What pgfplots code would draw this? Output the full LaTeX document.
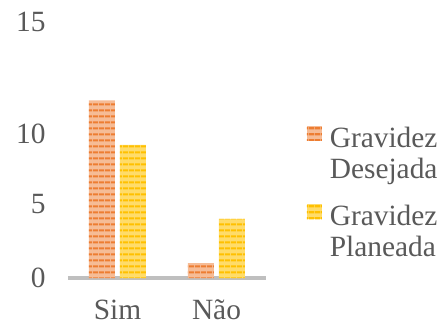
\documentclass[border=0pt]{standalone}
\usepackage{fontspec}
\setmainfont{Liberation Serif}
\usepackage{pgfplots}
\pgfplotsset{compat=1.18}
\usetikzlibrary{patterns.meta}
\definecolor{txt}{HTML}{595959}
\definecolor{orA}{HTML}{ED7D31}
\definecolor{orB}{HTML}{F6BC96}
\definecolor{ylA}{HTML}{FFC000}
\definecolor{ylB}{HTML}{FFDC6A}
\definecolor{base}{HTML}{BFBFBF}
\begin{document}
\begin{tikzpicture}
\begin{axis}[
  scale only axis,
  width=198bp, height=256bp,
  xmin=-0.5, xmax=1.5,
  ymin=0, ymax=17.3,
  ybar=5bp, bar width=26bp,
  xtick={0,1}, xticklabels={Sim,N\~ao},
  ytick={0,5,9.75,17.3}, yticklabels={0,5,10,15},
  major tick length=0pt,
  axis x line*=bottom, axis y line*=left,
  x axis line style={draw=base, line width=4bp, -},
  y axis line style={draw=none},
  font=\fontsize{29.5}{31}\selectfont,
  tick label style={text=txt},
  /pgf/number format/assume math mode=true,
  every y tick label/.append style={xshift=-19bp},
  every x tick label/.append style={inner sep=1bp, text depth=0pt, yshift=-20.5bp},
  legend style={draw=none, fill=none, at={(1.19,0.334)}, anchor=west,
    text=txt, cells={align=left, anchor=west}, row sep=22bp,
    /tikz/every odd column/.style={column sep=6bp}},
  legend image code/.code={\fill[#1] (0bp,12.5bp) rectangle (15bp,27.5bp);},
  clip=false,
]
\addplot[draw=none, fill=orB, postaction={pattern={Lines[angle=0,distance=6bp,line width=2.5bp]}, pattern color=orA}]
  coordinates {(0,12) (1,1)};
\addlegendentry{Gravidez\\Desejada}
\addplot[draw=none, fill=ylB, postaction={pattern={Lines[angle=0,distance=6bp,line width=2.5bp]}, pattern color=ylA}]
  coordinates {(0,9) (1,4)};
\addlegendentry{Gravidez\\Planeada}
\path (rel axis cs:0,0) ++(-68bp,-48bp) rectangle ++(444bp,326bp);
\end{axis}
\end{tikzpicture}
\end{document}
